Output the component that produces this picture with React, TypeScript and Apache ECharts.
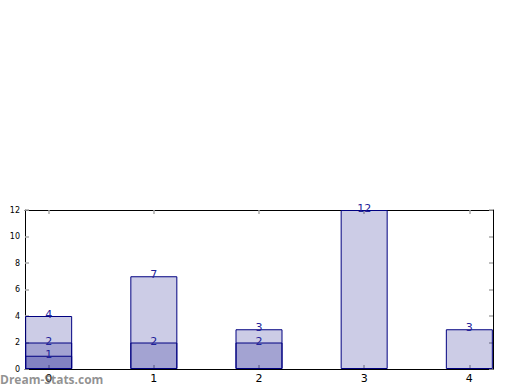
import React, { useEffect, useRef } from "react";
import * as echarts from "echarts";

const categories = [0, 1, 2, 3, 4];
const seriesA = [4, 7, 3, 12, 3];
const seriesB: (number | null)[] = [2, 2, 2, null, null];
const seriesC: (number | null)[] = [1, null, null, null, null];
const yTicks = [0, 2, 4, 6, 8, 10, 12];

const toPairs = (vals: (number | null)[]) =>
  categories.map((c, i) => (vals[i] == null ? null : [c, vals[i]]));

export default function App() {
  const ref = useRef<HTMLDivElement>(null);
  useEffect(() => {
    if (!ref.current) return;
    const chart = echarts.init(ref.current, undefined, { renderer: "svg" });
    const tickStyle = { show: true, inside: true, length: 4, lineStyle: { color: "#aaaaaa", width: 1.5 } };
    const mkBar = (vals: (number | null)[]) => ({
      type: "bar",
      data: toPairs(vals),
      barWidth: 47,
      barGap: "-100%",
      itemStyle: { color: "rgba(0,0,128,0.2)", borderColor: "#000080", borderWidth: 1 },
      label: {
        show: true,
        position: "top",
        distance: -4,
        color: "#22229a",
        fontSize: 11,
        fontFamily: "DejaVu Sans",
      },
    });
    chart.setOption({
      animation: false,
      grid: { left: 25, right: 27, top: 210, bottom: 21, containLabel: false },
      xAxis: [
        {
          type: "value",
          min: -0.225,
          max: 4.225,
          position: "bottom",
          axisLine: { show: true, onZero: false, lineStyle: { color: "#000", width: 1 } },
          axisTick: { ...tickStyle, customValues: categories },
          axisLabel: {
            customValues: categories,
            color: "#000",
            fontSize: 11,
            fontFamily: "DejaVu Sans",
            margin: 4,
          },
          splitLine: { show: false },
        },
        {
          type: "value",
          min: -0.225,
          max: 4.225,
          position: "top",
          axisLine: { show: true, onZero: false, lineStyle: { color: "#000", width: 1 } },
          axisTick: { ...tickStyle, customValues: categories },
          axisLabel: { show: false },
          splitLine: { show: false },
        },
      ],
      yAxis: [
        {
          type: "value",
          min: 0,
          max: 12,
          interval: 2,
          position: "left",
          axisLine: { show: true, onZero: false, lineStyle: { color: "#000", width: 1 } },
          axisTick: { ...tickStyle, customValues: yTicks },
          axisLabel: {
            customValues: yTicks,
            color: "#000",
            fontSize: 8,
            fontFamily: "DejaVu Sans",
            margin: 5,
          },
          splitLine: { show: false },
        },
        {
          type: "value",
          min: 0,
          max: 12,
          interval: 2,
          position: "right",
          axisLine: { show: true, onZero: false, lineStyle: { color: "#000", width: 1 } },
          axisTick: { ...tickStyle, customValues: yTicks },
          axisLabel: { show: false },
          splitLine: { show: false },
        },
      ],
      series: [mkBar(seriesA), mkBar(seriesB), mkBar(seriesC)],
      graphic: [
        {
          type: "text",
          left: 0,
          top: 373,
          z: 100,
          style: {
            text: "Dream-Stats.com",
            fill: "rgba(110,110,110,0.75)",
            font: "bold 12px 'Open Sans'",
          },
        },
      ],
    });
    return () => chart.dispose();
  }, []);
  return <div ref={ref} style={{ width: 520, height: 390, position: "absolute", left: 0, top: 0 }} />;
}
